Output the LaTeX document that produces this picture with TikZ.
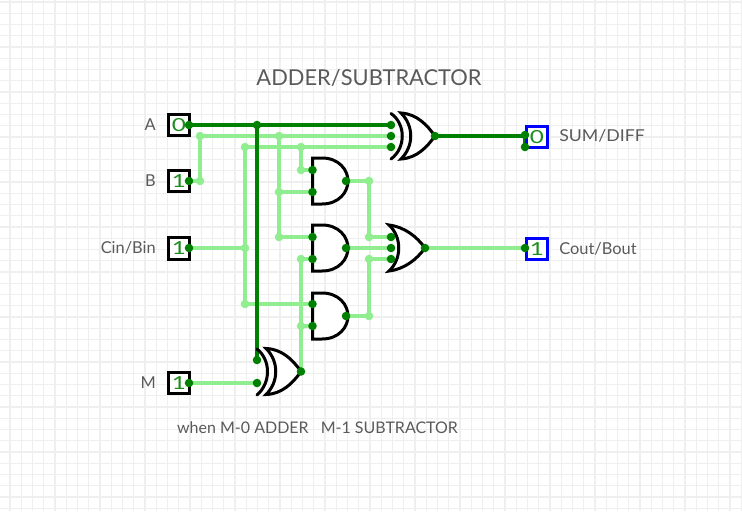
\documentclass[tikz,border=0pt]{standalone}
\usepackage{fontspec}
\setmainfont{Lato}
\usetikzlibrary{backgrounds}
\definecolor{gridc}{HTML}{EFEFEF}
\definecolor{wireon}{HTML}{008000}
\definecolor{wireoff}{HTML}{90EE90}
\definecolor{labelc}{HTML}{5A5A5A}
\definecolor{bitc}{HTML}{1E8C1E}
\tikzset{
  x=0.75pt,y=-0.75pt,
  pinon/.style={circle,fill=wireon,inner sep=0pt,minimum size=6.4pt},
  pinoff/.style={circle,fill=wireoff,inner sep=0pt,minimum size=6.4pt},
  on/.style={draw=wireon,line width=2.3pt,line join=miter},
  off/.style={draw=wireoff,line width=2.3pt,line join=miter},
  gate/.style={draw=black,line width=2.25pt,fill=white,line join=miter},
  gateline/.style={draw=black,line width=2.25pt,line cap=round},
  inbox/.style={draw=black,line width=2.25pt,fill=white,minimum size=16pt,inner sep=0pt,text=bitc,font=\fontsize{13.5}{15}\selectfont},
  outbox/.style={draw=blue,line width=2.25pt,fill=white,minimum size=16pt,inner sep=0pt,text=bitc,font=\fontsize{13.5}{15}\selectfont},
  lab/.style={text=labelc,font=\fontsize{12.3}{14}\selectfont,inner sep=0pt},
}
\newcommand{\andgate}[1]{% #1 = vertical centre
  \path[gate] (312.5,#1-23) -- (322,#1-23) .. controls (339,#1-23) and (348,#1-11) .. (348,#1)
    .. controls (348,#1+11) and (339,#1+23) .. (322,#1+23) -- (312.5,#1+23) -- cycle;}
\newcommand{\widebit}[1]{\scalebox{1.35}[1]{#1}}
\begin{document}
\begin{tikzpicture}
\useasboundingbox (0,0) rectangle (742,511);

% title and labels
\node[lab,font=\fontsize{16.4}{19}\selectfont] (title) at (369,78) {ADDER/SUBTRACTOR};
\node[lab,anchor=east] (la) at (156,125) {A};
\node[lab,anchor=east] (lb) at (156,181) {B};
\node[lab,anchor=east] (lc) at (156,248) {Cin/Bin};
\node[lab,anchor=east] (lm) at (156,383) {M};
\node[lab,anchor=west] (ls) at (559,136) {\scalebox{1.08}[1]{SUM/DIFF}};
\node[lab,anchor=west] (lo) at (559,249) {Cout/Bout};
\node[lab,font=\fontsize{12}{14}\selectfont] (note) at (317.5,428) {when M-0 ADDER\hspace{9pt}M-1 SUBTRACTOR};

% gates
\andgate{181}
\andgate{248}
\andgate{316}
% top XOR
\path[gate] (401,113) .. controls (417,114) and (427,125) .. (435,136)
  .. controls (427,147) and (417,158) .. (401,159)
  .. controls (414,146) and (414,126) .. (401,113) -- cycle;
\draw[gateline] (391,113.5) .. controls (406,124) and (406,148) .. (391,159);
% OR
\path[gate] (389,225) .. controls (405,227) and (417,237) .. (425,248)
  .. controls (417,259) and (405,269) .. (389,271)
  .. controls (402,259) and (402,237) .. (389,225) -- cycle;
% lower XOR
\path[gate] (266,348.5) .. controls (282,349) and (293,360) .. (301,371.5)
  .. controls (293,383) and (282,394) .. (266,394.5)
  .. controls (279,382) and (279,361) .. (266,348.5) -- cycle;
\draw[gateline] (257,349) .. controls (271,360) and (271,383) .. (257,395);

% boxes
\node[inbox] (ina) at (179,125) {\widebit{0}};
\node[inbox] (inb) at (179,181) {\widebit{1}};
\node[inbox] (inc) at (179,248.5) {\widebit{1}};
\node[inbox] (inm) at (179,383) {\widebit{1}};
\node[outbox] (outs) at (537,137) {\widebit{0}};
\node[outbox] (outc) at (537,249) {\widebit{1}};

% light junctions
\foreach \n/\x/\y in {j1/200/181,j2/200/136,j3/279/136,j4/279/192,j5/279/237,
  j6/245/147,j7/245/248,j8/245/304,j9/301/147,j10/301/170,j11/301/259,j12/301/326,
  j13/369/181,j14/369/237,j15/369/316,j16/369/259}
  \node[pinoff] (\n) at (\x,\y) {};
% pins
\foreach \n/\x/\y in {pa/189/125,pb/189/181,pc/189/248,pm/189/383,
  xa/391/125,xb/391/136,xc/391/147,xo/435/136,
  a1/312.5/170,a2/312.5/192,a1o/346/181,
  b1/312.5/237,b2/312.5/259,b1o/346/248,
  c1/312.5/304,c2/312.5/326,c1o/346/316,
  oa/391/237,ob/391/248,oc/391/259,oo/425/248,
  ma/257/360,mb/257/383,mo/301/371.5,
  sa/525/135,sb/525/147,ca/525/248,ajn/257/125}
  \node[pinon] (\n) at (\x,\y) {};

\begin{scope}[on background layer]
\fill[white] (0,0) rectangle (742,511);
\foreach \k in {0,...,65} \draw[gridc,line width=1.1pt] (10+11.25*\k,0) -- (10+11.25*\k,511);
\foreach \k in {0,...,45} \draw[gridc,line width=1.1pt] (0,2+11.25*\k) -- (742,2+11.25*\k);
% logic-0 / logic-1 wires
\draw[off] (pb.center) -- (j1.center) -- (j2.center) -- (xb.center);
\draw[off] (j3.center) -- (j5.center) -- (b1.center);
\draw[off] (j4.center) -- (a2.center);
\draw[off] (pc.center) -- (j7.center);
\draw[off] (j6.center) -- (j8.center) -- (c1.center);
\draw[off] (j6.center) -- (xc.center);
\draw[off] (j9.center) -- (j10.center) -- (a1.center);
\draw[off] (mo.center) -- (mo.center -| j11) -- (j11.center) -- (b2.center);
\draw[off] (j12.center) -- (c2.center);
\draw[off] (a1o.center) -- (j13.center) -- (j14.center) -- (oa.center);
\draw[off] (b1o.center) -- (ob.center);
\draw[off] (c1o.center) -- (j15.center) -- (j16.center) -- (oc.center);
\draw[off] (oo.center) -- (ca.center);
\draw[off] (pm.center) -- (mb.center);
\draw[on] (pa.center) -- (xa.center);
\draw[on] (ajn.center) -- (ma.center);
\draw[on] (xo.center) -- (xo.center -| sa) -- (sb.center);
\end{scope}
\end{tikzpicture}
\end{document}
